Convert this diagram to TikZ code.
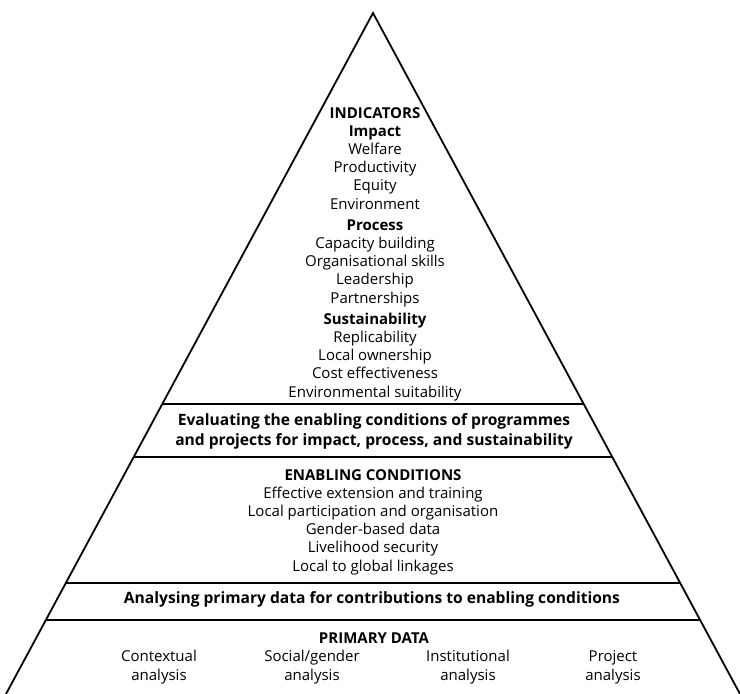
\documentclass[tikz,border=0pt]{standalone}
\usepackage{fontspec}
\setmainfont{Open Sans}
\usetikzlibrary{calc}
\begin{document}
\begin{tikzpicture}[x=1bp,y=-1bp,
  side/.style={line width=1.8bp, line join=miter},
  band/.style={line width=2.6bp},
  txt/.style={align=center, inner sep=0pt, anchor=base, font=\fontsize{15bp}{18.1bp}\selectfont},
  boldtxt/.style={align=center, inner sep=0pt, anchor=base, font=\fontsize{15.6bp}{20bp}\selectfont\bfseries}]
\useasboundingbox (0,0) rectangle (740,694);
\coordinate (apex) at (373,13);
\coordinate (bl) at ($(apex)!1.02!(6,694)$);
\coordinate (br) at ($(apex)!1.02!(740,694)$);
\draw[side] (bl) -- (apex) -- (br);
% band lines
\foreach \t/\n in {0.5742/a,0.6520/b,0.8370/c,0.8913/d}{
  \coordinate (L\n) at ($(apex)!\t!(6,694)$);
  \coordinate (R\n) at ($(apex)!\t!(740,694)$);
  \draw[band] (L\n) -- (R\n);
}
% anchor=base refers to the last line's baseline
\node[txt] (ind) at (375,397) {\textbf{INDICATORS}\\ \textbf{Impact}\\ Welfare\\ Productivity\\ Equity\\ Environment\\[3.5bp]
 \textbf{Process}\\ Capacity building\\ Organisational skills\\ Leadership\\ Partnerships\\[3.5bp]
 \textbf{Sustainability}\\ Replicability\\ Local ownership\\ Cost effectiveness\\ Environmental suitability};
\node[boldtxt] (eval) at (374,445.7) {Evaluating the enabling conditions of programmes\\ and projects for impact, process, and sustainability};
\node[txt] (enab) at (373,571) {\textbf{ENABLING CONDITIONS}\\ Effective extension and training\\ Local participation and organisation\\ Gender-based data\\ Livelihood security\\ Local to global linkages};
\node[boldtxt] (anal) at (372,603.3) {Analysing primary data for contributions to enabling conditions};
\node[txt] (prim) at (374,643.3) {\textbf{PRIMARY DATA}};
\node[txt] (c1) at (159,680) {Contextual\\ analysis};
\node[txt] (c2) at (312,680) {Social/gender\\ analysis};
\node[txt] (c3) at (468,680) {Institutional\\ analysis};
\node[txt] (c4) at (613,680) {Project\\ analysis};
\end{tikzpicture}
\end{document}
